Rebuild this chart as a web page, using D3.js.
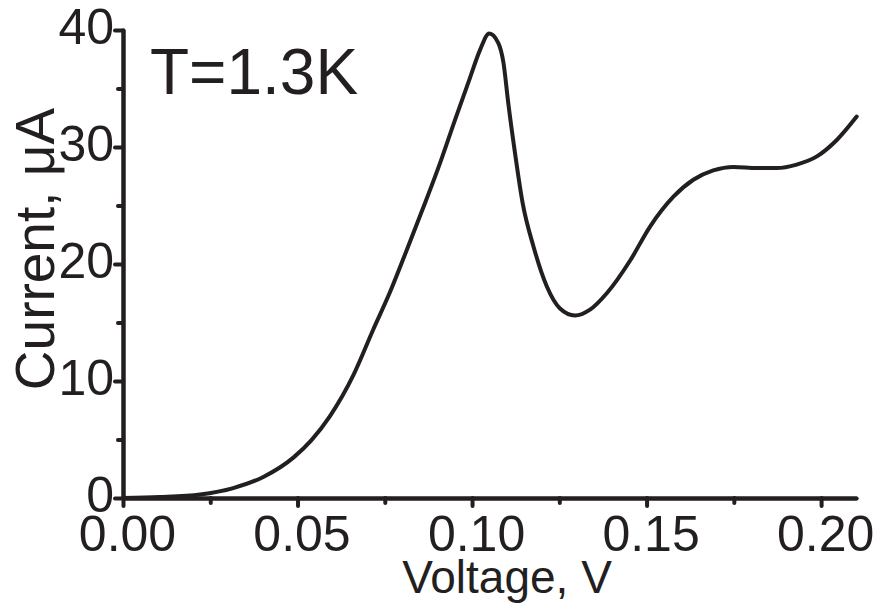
<!DOCTYPE html>
<html>
<head>
<meta charset="utf-8">
<script src="https://cdn.jsdelivr.net/npm/d3@7"></script>
<style>
  body { margin: 0; background: #fff; }
  text { font-family: "Liberation Sans", Arial, sans-serif; fill: #231f20; }
</style>
</head>
<body>
<script>
// Width and height
var w = 878;
var h = 608;

// Data (voltage in V, current in uA)
var voltage = [0, 0.0106, 0.0221, 0.0316, 0.0402, 0.0488, 0.0540, 0.0593, 0.0660, 0.0717,
               0.0765, 0.0813, 0.0860, 0.0908, 0.0951, 0.0994, 0.1023, 0.1049, 0.1075, 0.1090,
               0.1104, 0.1123, 0.1145, 0.1176, 0.1214, 0.1252, 0.1295, 0.1338, 0.1386, 0.1453,
               0.1510, 0.1577, 0.1634, 0.1691, 0.1749, 0.1816, 0.1873, 0.1930, 0.1988, 0.2045, 0.2102];
var current = [0, 0.08, 0.3, 0.85, 1.8, 3.45, 4.95, 7.0, 10.5, 14.4,
               17.6, 21.2, 24.8, 28.6, 32.3, 35.9, 38.3, 39.7, 38.9, 37.2,
               33.7, 29.5, 25.2, 21.5, 18.1, 16.2, 15.6, 16.1, 17.5, 20.3,
               23.2, 25.75, 27.2, 28.0, 28.3, 28.2, 28.2, 28.5, 29.2, 30.6, 32.6];

var xMajor = [0, 0.05, 0.10, 0.15, 0.20];
var xMinor = [0.025, 0.075, 0.125, 0.175];
var yMajor = [0, 10, 20, 30, 40];
var yMinor = [5, 15, 25, 35];

var title = "T=1.3K";
var xTitle = "Voltage, V";
var yTitle = "Current, \u03bcA";

var ink = "#231f20";

// Scales
var xScale = d3.scaleLinear()
              .domain([0, 0.21])
              .range([123, 856]);

var yScale = d3.scaleLinear()
              .domain([0, 40])
              .range([498, 30]);

var svg = d3.select("body")
            .append("svg")
            .attr("width", w)
            .attr("height", h);

// Axes
var xAxis = d3.axisBottom(xScale)
              .tickValues(xMajor)
              .tickSizeInner(8)
              .tickSizeOuter(0)
              .tickPadding(9)
              .tickFormat(d3.format(".2f"));

var xAxisMinor = d3.axisBottom(xScale)
              .tickValues(xMinor)
              .tickSizeInner(5)
              .tickSizeOuter(0)
              .tickFormat("");

var yAxis = d3.axisLeft(yScale)
              .tickValues(yMajor)
              .tickSizeInner(8)
              .tickSizeOuter(0)
              .tickPadding(1)
              .tickFormat(d3.format("d"));

var yAxisMinor = d3.axisLeft(yScale)
              .tickValues(yMinor)
              .tickSizeInner(5)
              .tickSizeOuter(0)
              .tickFormat("");

function styleAxis(g) {
  g.select(".domain")
    .attr("stroke", ink)
    .attr("stroke-width", 4)
    .attr("stroke-linecap", "round");
  g.selectAll(".tick line")
    .attr("stroke", ink)
    .attr("stroke-width", 4)
    .attr("stroke-linecap", "round");
  g.selectAll(".tick text")
    .attr("font-family", "Liberation Sans, Arial, sans-serif")
    .attr("font-size", "50px")
    .attr("fill", ink);
}

svg.append("g")
  .attr("transform", "translate(0,498)")
  .call(xAxisMinor)
  .call(styleAxis);

svg.append("g")
  .attr("transform", "translate(0,498)")
  .call(xAxis)
  .call(styleAxis)
  .selectAll(".tick text")
  .attr("dx", "4");

svg.append("g")
  .attr("transform", "translate(123,0)")
  .call(yAxisMinor)
  .call(styleAxis);

svg.append("g")
  .attr("transform", "translate(123,0)")
  .call(yAxis)
  .call(styleAxis)
  .selectAll(".tick text")
  .attr("dy", "0.27em");

// Curve
var line = d3.line()
             .x(function(d, i) { return xScale(voltage[i]); })
             .y(function(d, i) { return yScale(current[i]); })
             .curve(d3.curveMonotoneX);

svg.append("path")
  .datum(current)
  .attr("d", line)
  .attr("fill", "none")
  .attr("stroke", ink)
  .attr("stroke-width", 4)
  .attr("stroke-linejoin", "round")
  .attr("stroke-linecap", "round");

// Labels
svg.append("text")
  .attr("x", 150)
  .attr("y", 94)
  .attr("font-size", "64px")
  .text(title);

svg.append("text")
  .attr("x", 507)
  .attr("y", 593)
  .attr("text-anchor", "middle")
  .attr("font-size", "46px")
  .text(xTitle);

svg.append("text")
  .attr("transform", "translate(54,249) rotate(-90)")
  .attr("text-anchor", "middle")
  .attr("font-size", "55px")
  .text(yTitle);
</script>
</body>
</html>
